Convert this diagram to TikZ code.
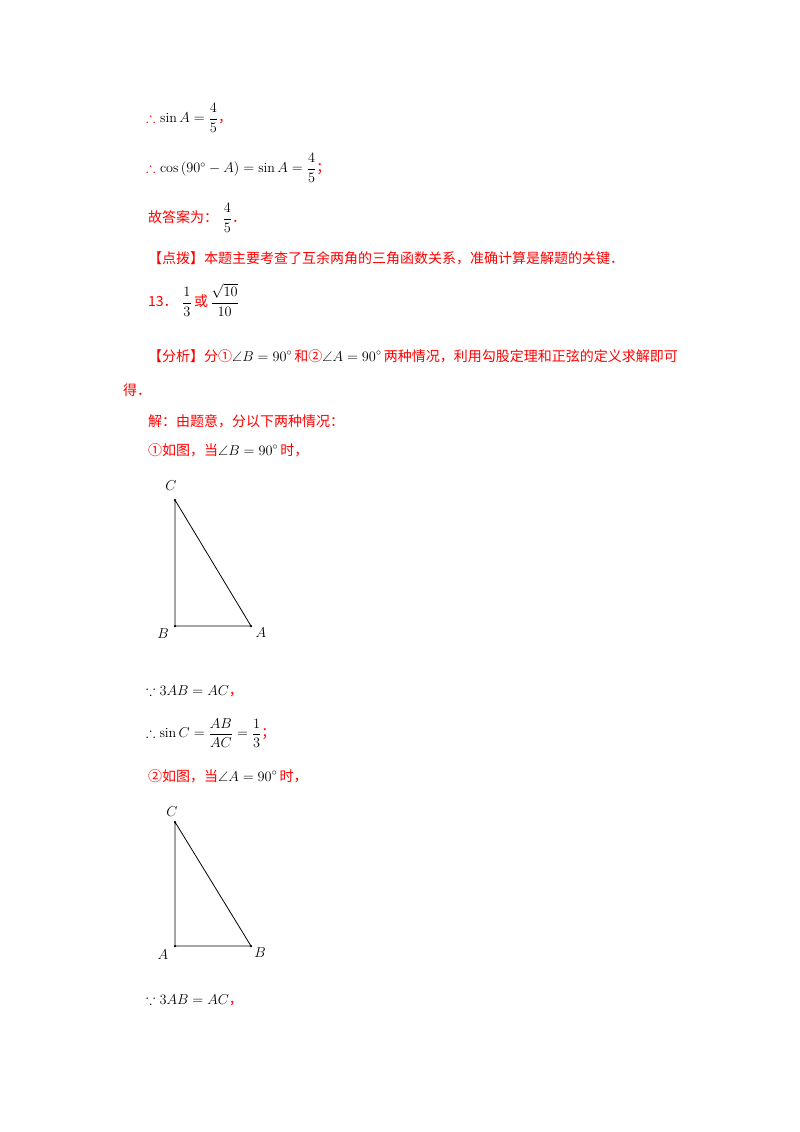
\documentclass[tikz,border=0pt]{standalone}
\usepackage{amssymb}
\usepackage{amsmath}
\usepackage{fontspec}
\newfontfamily\cjk{Noto Sans CJK SC}
\definecolor{ared}{RGB}{255,0,0}
\begin{document}
\begin{tikzpicture}[x=1bp,y=-1bp,
  line/.style={anchor=west,inner sep=0pt,font=\fontsize{14bp}{16bp}\selectfont},
  pt/.style={circle,fill,inner sep=0pt,minimum size=2.5bp},
  tri/.style={line width=0.8bp},
  lab/.style={font=\fontsize{15bp}{16bp}\selectfont\itshape}]
\useasboundingbox[fill=white] (0,0) rectangle (800,1132);
\newcommand\R[1]{\textcolor{ared}{\cjk #1}}
\newcommand\Th{{\color{ared}$\boldsymbol{\therefore}$}}
\node[line] (l1) at (146,118) {\Th\ $\sin A=\dfrac{4}{5}$\R{，}};
\node[line] (l2) at (146,168) {\Th\ $\cos\left(90^\circ-A\right)=\sin A=\dfrac{4}{5}$\R{；}};
\node[line] (l3) at (148,218) {\R{故答案为：}\ $\dfrac{4}{5}$\R{．}};
\node[line] (l4) at (148,258) {\R{【点拨】本题主要考查了互余两角的三角函数关系，准确计算是解题的关键．}};
\node[line] (l5) at (148,300) {\R{13．}\ $\dfrac{1}{3}$\,\R{或}\,$\dfrac{\sqrt{10}}{10}$};
\node[line] (l6) at (148,356) {\R{【分析】分①}$\angle B=90^\circ$\,\R{和②}$\angle A=90^\circ$\,\R{两种情况，利用勾股定理和正弦的定义求解即可}};
\node[line] (l7) at (123,390) {\R{得．}};
\node[line] (l8) at (148,421) {\R{解：由题意，分以下两种情况：}};
\node[line] (l9) at (148,450) {\R{①如图，当}$\angle B=90^\circ$\,\R{时，}};
% triangle 1
\node[pt] (C1) at (175,500) {};
\node[pt] (B1) at (175,626) {};
\node[pt] (A1) at (251,626) {};
\draw[tri] (C1.center) -- (B1.center) -- (A1.center) -- cycle;
\node[lab] (lc1) at (171,486) {$C$};
\node[lab] (lb1) at (163,634) {$B$};
\node[lab] (la1) at (261,633) {$A$};
\node[line] (l10) at (146,691) {$\because 3AB=AC$\R{，}};
\node[line] (l11) at (146,733) {$\therefore \sin C=\dfrac{AB}{AC}=\dfrac{1}{3}$\R{；}};
\node[line] (l12) at (148,776) {\R{②如图，当}$\angle A=90^\circ$\,\R{时，}};
% triangle 2
\node[pt] (C2) at (175,822) {};
\node[pt] (A2) at (175,946) {};
\node[pt] (B2) at (251,946) {};
\draw[tri] (C2.center) -- (A2.center) -- (B2.center) -- cycle;
\node[lab] (lc2) at (172,812) {$C$};
\node[lab] (la2) at (163,955) {$A$};
\node[lab] (lb2) at (260,953) {$B$};
\node[line] (l13) at (146,1000) {$\because 3AB=AC$\R{，}};
\end{tikzpicture}
\end{document}
